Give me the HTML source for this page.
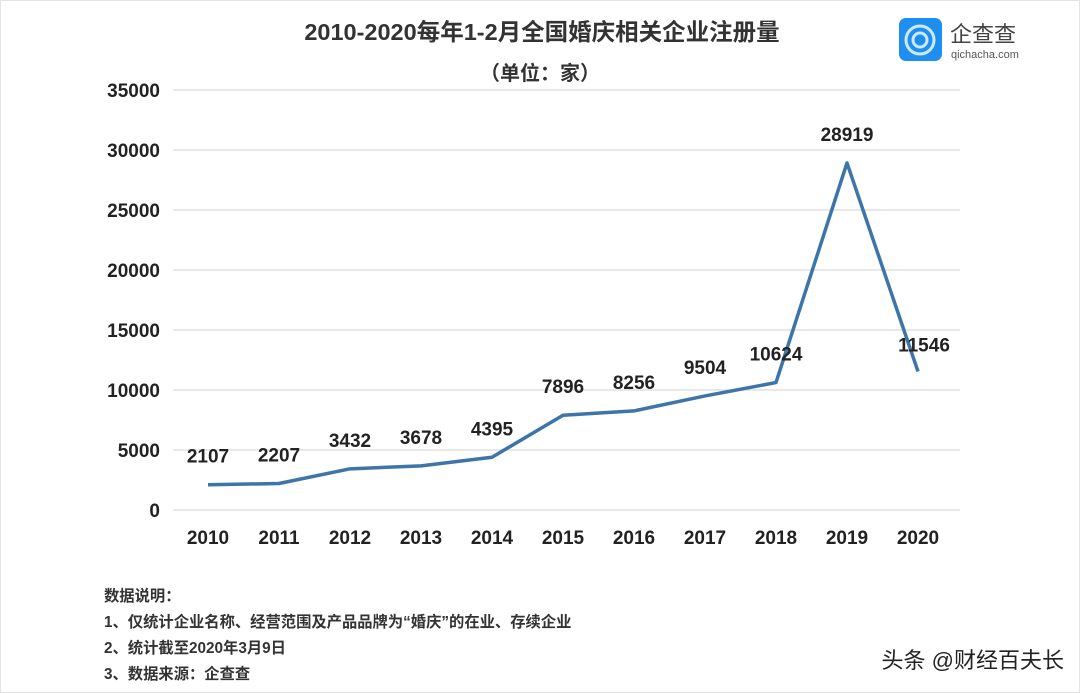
<!DOCTYPE html>
<html><head><meta charset="utf-8"><style>
body{margin:0;width:1080px;height:693px;background:#fff;overflow:hidden;font-family:"Liberation Sans","Noto Sans CJK SC",sans-serif;}
.wrap{position:absolute;left:0;top:0;width:1078px;height:691px;border:1px solid #e4e4e4;}
</style></head><body>
<div class="wrap"></div>
<svg width="1080" height="693" style="position:absolute;left:0;top:0">
<text x="542" y="40" text-anchor="middle" font-size="23.5" font-weight="bold" fill="#333">2010-2020每年1-2月全国婚庆相关企业注册量</text>
<text x="540" y="80" text-anchor="middle" font-size="20" font-weight="bold" fill="#333">（单位：家）</text>
<g>
<rect x="899" y="18" width="43" height="43" rx="7" fill="#1e8ef0"/>
<circle cx="920" cy="40" r="14" fill="none" stroke="#cfeaff" stroke-width="3"/>
<circle cx="920" cy="40" r="7" fill="none" stroke="#cfeaff" stroke-width="3"/>
<text x="950" y="42" font-size="22" fill="#444">企查查</text>
<text x="951" y="58" font-size="11" fill="#555">qichacha.com</text>
</g>
<g id="grid"></g><g id="ylab"></g><g id="xlab"></g>
<polyline id="line" fill="none" stroke="#3e75a8" stroke-width="3.5" stroke-linejoin="round"/>
<g id="vlab"></g>
<text x="104" y="601" font-size="15.3" font-weight="bold" fill="#333">数据说明：</text>
<text x="104" y="627" font-size="15.3" font-weight="bold" fill="#333">1、仅统计企业名称、经营范围及产品品牌为“婚庆”的在业、存续企业</text>
<text x="104" y="653" font-size="15.3" font-weight="bold" fill="#333">2、统计截至2020年3月9日</text>
<text x="104" y="679" font-size="15.3" font-weight="bold" fill="#333">3、数据来源：企查查</text>
<text x="1064" y="668" text-anchor="end" font-size="22" fill="#222">头条 @财经百夫长</text>
</svg>
<script>
const categories=["2010","2011","2012","2013","2014","2015","2016","2017","2018","2019","2020"];
const values=[2107,2207,3432,3678,4395,7896,8256,9504,10624,28919,11546];
const yTicks=[0,5000,10000,15000,20000,25000,30000,35000];
const NS="http://www.w3.org/2000/svg";
const x=i=>208+i*71, y=v=>510-v*0.012;
function mk(t,a,txt){const e=document.createElementNS(NS,t);for(const k in a)e.setAttribute(k,a[k]);if(txt!=null)e.textContent=txt;return e;}
const grid=document.getElementById('grid'),yl=document.getElementById('ylab'),xl=document.getElementById('xlab'),vl=document.getElementById('vlab');
yTicks.forEach(t=>{
 const l=mk('line',{x1:173,x2:960,y1:y(t),y2:y(t),stroke:'#d9d9d9','stroke-width':1.3});
 
 
 grid.appendChild(l);
 const tx=mk('text',{x:160,y:y(t)+7,'text-anchor':'end','font-size':19,'font-weight':'bold',fill:'#222'},t);
 
 
 yl.appendChild(tx);
});
categories.forEach((c,i)=>{
 const tx=mk('text',{x:x(i),y:544,'text-anchor':'middle','font-size':19,'font-weight':'bold',fill:'#222'},c);
 
 
 xl.appendChild(tx);
});
document.getElementById('line').setAttribute('points',values.map((v,i)=>x(i)+','+y(v)).join(' '));
values.forEach((v,i)=>{
 let lx=x(i),ly=y(v)-22;
 if(i===values.length-1){lx+=6;ly=y(v)-20;}
 const tx=mk('text',{x:lx,y:ly,'text-anchor':'middle','font-size':19,'font-weight':'bold',fill:'#222'},String(v));
 
 
 vl.appendChild(tx);
});
</script>
</body></html>
